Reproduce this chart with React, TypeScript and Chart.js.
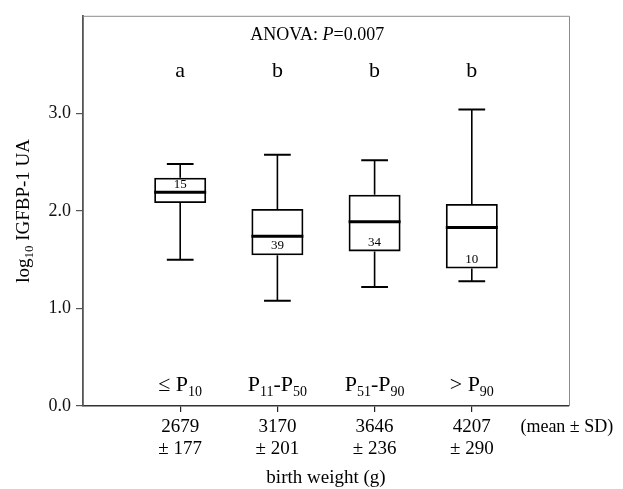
import React, { useEffect, useRef } from 'react';
import { Chart, registerables } from 'chart.js';

Chart.register(...registerables);

// ---- data ----
const categoryPos = [1, 2, 3, 4];
const groupLabels = ['≤ P_{10}', 'P_{11}-P_{50}', 'P_{51}-P_{90}', '> P_{90}'];
const groupLetters = ['a', 'b', 'b', 'b'];
const meanBW = [2679, 3170, 3646, 4207];
const sdBW = [177, 201, 236, 290];
const whiskerLow = [1.5, 1.08, 1.22, 1.28];
const q1 = [2.08, 1.545, 1.585, 1.41];
const median = [2.19, 1.74, 1.89, 1.83];
const q3 = [2.34, 2.02, 2.165, 2.07];
const whiskerHigh = [2.48, 2.575, 2.52, 3.04];
const nCounts = [15, 39, 34, 10];
const nLabelY = [2.265, 1.64, 1.68, 1.5];
const yTicks = [0, 1, 2, 3];

const FONT = "'Liberation Serif', 'DejaVu Serif', serif";
const capWidth = 0.275; // in x units

type Part = { t: string; sub?: boolean; italic?: boolean };

function parseRich(s: string): Part[] {
  const parts: Part[] = [];
  const re = /_\{([^}]*)\}/g;
  let last = 0;
  let m: RegExpExecArray | null;
  while ((m = re.exec(s))) {
    if (m.index > last) parts.push({ t: s.slice(last, m.index) });
    parts.push({ t: m[1], sub: true });
    last = m.index + m[0].length;
  }
  if (last < s.length) parts.push({ t: s.slice(last) });
  return parts;
}

function drawRich(ctx: CanvasRenderingContext2D, parts: Part[], cx: number, cy: number, size: number, subSize: number, align: 'center' | 'left' = 'center') {
  const fontFor = (p: Part) => `${p.italic ? 'italic ' : ''}${p.sub ? subSize : size}px ${FONT}`;
  let total = 0;
  const widths = parts.map((p) => {
    ctx.font = fontFor(p);
    const w = ctx.measureText(p.t).width;
    total += w;
    return w;
  });
  let xx = align === 'center' ? cx - total / 2 : cx;
  ctx.textAlign = 'left';
  ctx.textBaseline = 'alphabetic';
  parts.forEach((p, i) => {
    ctx.font = fontFor(p);
    ctx.fillText(p.t, xx, cy + size * 0.35 + (p.sub ? size * 0.22 : 0));
    xx += widths[i];
  });
}

const boxExtras = {
  id: 'boxExtras',
  afterDatasetsDraw(chart: any) {
    const { ctx, chartArea, scales } = chart;
    const x = scales.x;
    const y = scales.y;
    const meta = chart.getDatasetMeta(0);
    ctx.save();
    // frame top/right
    ctx.strokeStyle = '#8c8c8c';
    ctx.lineWidth = 1;
    ctx.beginPath();
    ctx.moveTo(chartArea.left, chartArea.top + 0.5);
    ctx.lineTo(chartArea.right + 0.5, chartArea.top + 0.5);
    ctx.lineTo(chartArea.right + 0.5, chartArea.bottom);
    ctx.stroke();

    ctx.strokeStyle = '#000';
    ctx.fillStyle = '#000';
    categoryPos.forEach((c, i) => {
      const cx = x.getPixelForValue(c);
      const bw = meta.data[i] ? meta.data[i].width : 50;
      const ch = x.getPixelForValue(c + capWidth / 2) - cx;
      // whiskers
      ctx.lineWidth = 1.6;
      ctx.beginPath();
      ctx.moveTo(cx, y.getPixelForValue(q3[i]));
      ctx.lineTo(cx, y.getPixelForValue(whiskerHigh[i]));
      ctx.moveTo(cx, y.getPixelForValue(q1[i]));
      ctx.lineTo(cx, y.getPixelForValue(whiskerLow[i]));
      ctx.stroke();
      // caps
      ctx.lineWidth = 2;
      ctx.beginPath();
      const yh = y.getPixelForValue(whiskerHigh[i]);
      const yl = y.getPixelForValue(whiskerLow[i]);
      ctx.moveTo(cx - ch, yh);
      ctx.lineTo(cx + ch, yh);
      ctx.moveTo(cx - ch, yl);
      ctx.lineTo(cx + ch, yl);
      ctx.stroke();
      // median
      ctx.lineWidth = 3;
      ctx.beginPath();
      const ym = y.getPixelForValue(median[i]);
      ctx.moveTo(cx - bw / 2, ym);
      ctx.lineTo(cx + bw / 2, ym);
      ctx.stroke();
      // n label
      ctx.font = `13px ${FONT}`;
      ctx.textAlign = 'center';
      ctx.textBaseline = 'middle';
      ctx.fillText(String(nCounts[i]), cx, y.getPixelForValue(nLabelY[i]));
      // letters
      ctx.font = `22px ${FONT}`;
      ctx.fillText(groupLetters[i], cx, y.getPixelForValue(3.43));
      // group labels
      drawRich(ctx, parseRich(groupLabels[i]), cx, y.getPixelForValue(0.234), 22, 14);
    });

    // ANOVA text
    drawRich(
      ctx,
      [{ t: 'ANOVA: ' }, { t: 'P', italic: true }, { t: '=0.007' }],
      x.getPixelForValue(2.41),
      y.getPixelForValue(3.82),
      18,
      14
    );

    // (mean ± SD)
    ctx.font = `18px ${FONT}`;
    ctx.textAlign = 'left';
    ctx.textBaseline = 'middle';
    ctx.fillText('(mean ± SD)', x.getPixelForValue(4.5), chartArea.bottom + 21);

    // y title
    ctx.save();
    ctx.translate(22, (chartArea.top + chartArea.bottom) / 2);
    ctx.rotate(-Math.PI / 2);
    drawRich(ctx, [{ t: 'log' }, { t: '10', sub: true }, { t: ' IGFBP-1 UA' }], 0, 0, 19, 13);
    ctx.restore();

    ctx.restore();
  },
};

export default function App() {
  const ref = useRef<HTMLCanvasElement | null>(null);
  useEffect(() => {
    if (!ref.current) return;
    Chart.defaults.font.family = FONT;
    const chart = new Chart(ref.current, {
      type: 'bar',
      data: {
        datasets: [
          {
            label: 'IQR',
            data: categoryPos.map((c, i) => ({ x: c, y: [q1[i], q3[i]] })) as any,
            backgroundColor: 'rgba(255,255,255,0)',
            borderColor: '#000',
            borderWidth: 1.8,
            borderSkipped: false,
            categoryPercentage: 1,
            barPercentage: 0.535,
          },
        ],
      },
      options: {
        responsive: false,
        animation: false,
        layout: { padding: { top: 12, right: 54, left: 0, bottom: 0 } },
        plugins: { legend: { display: false }, tooltip: { enabled: false } },
        scales: {
          x: {
            type: 'linear',
            min: 0,
            max: 5,
            offset: false,
            afterBuildTicks: (s: any) => {
              s.ticks = categoryPos.map((v) => ({ value: v }));
            },
            afterFit: (s: any) => {
              s.height = 83;
            },
            grid: { offset: false, drawOnChartArea: false, drawTicks: true, tickLength: 6, color: '#222', lineWidth: 1.2 },
            border: { display: true, color: '#333', width: 1.5 },
            ticks: {
              padding: 4,
              color: '#000',
              font: { size: 19, family: FONT, lineHeight: 1.15 },
              maxRotation: 0,
              autoSkip: false,
              callback: (v: any) => {
                const i = categoryPos.indexOf(Number(v));
                return i >= 0 ? [String(meanBW[i]), `± ${sdBW[i]}`] : '';
              },
            },
            title: {
              display: true,
              text: 'birth weight (g)',
              color: '#000',
              font: { size: 19, family: FONT },
              padding: { top: 0, bottom: 0 },
            },
          },
          y: {
            type: 'linear',
            min: 0,
            max: 4,
            afterBuildTicks: (s: any) => {
              s.ticks = yTicks.map((v) => ({ value: v }));
            },
            afterFit: (s: any) => {
              s.width = 83;
            },
            grid: { drawOnChartArea: false, drawTicks: true, tickLength: 7, color: '#555', lineWidth: 1.2 },
            border: { display: true, color: '#555', width: 1.8 },
            ticks: {
              padding: 5,
              color: '#111',
              font: { size: 18, family: FONT },
              callback: (v: any) => Number(v).toFixed(1),
            },
          },
        },
      },
      plugins: [boxExtras],
    });
    return () => chart.destroy();
  }, []);
  return (
    <div style={{ position: 'fixed', left: 0, top: 0, width: 623, height: 489, background: '#fff' }}>
      <canvas ref={ref} width={623} height={489} style={{ width: 623, height: 489, display: 'block' }} />
    </div>
  );
}
